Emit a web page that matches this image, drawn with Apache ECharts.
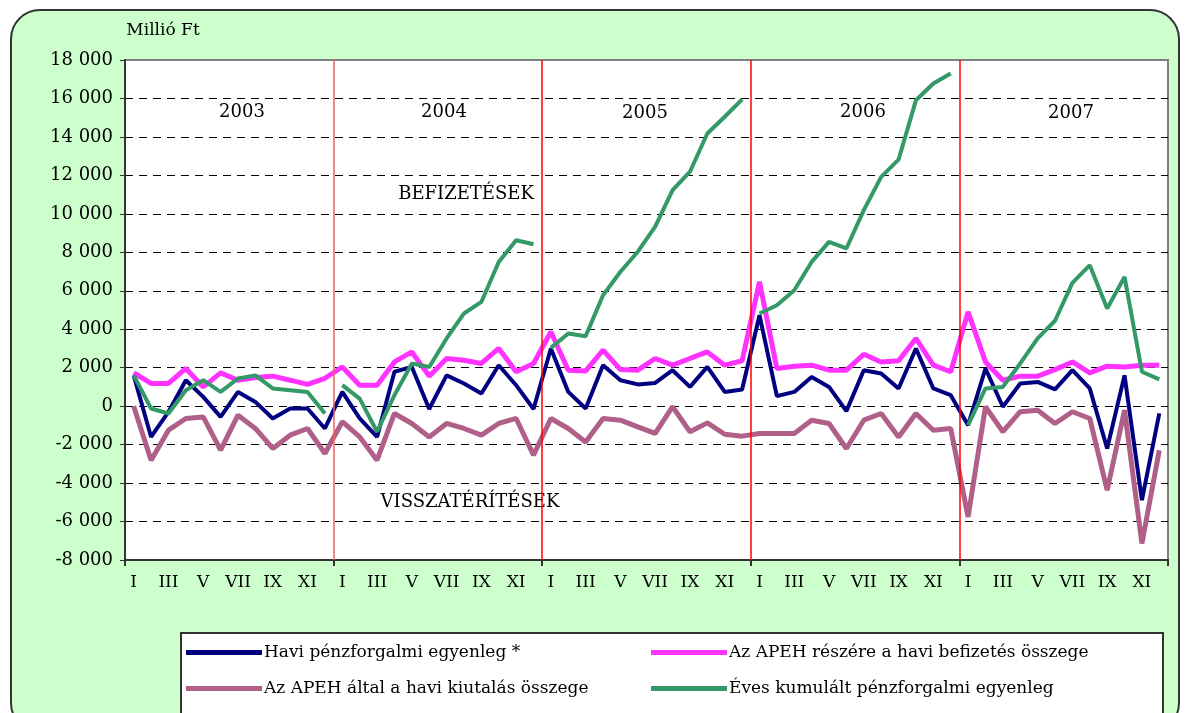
<!DOCTYPE html>
<html>
<head>
<meta charset="utf-8">
<script src="https://cdn.jsdelivr.net/npm/echarts@6/dist/echarts.min.js"></script>
<style>
	body { margin: 0; background: #fff; }
	#keret { position: absolute; left: 10px; top: 9px; width: 1166px; height: 720px; background: #ccffcc; border: 2px solid #333; border-radius: 30px; }
	#main { position: absolute; left: 0; top: 0; width: 1190px; height: 713px; }
</style>
</head>
<body>
<div id="keret"></div>
<div id="main"></div>
<script>
var honapok = ['I', 'II', 'III', 'IV', 'V', 'VI', 'VII', 'VIII', 'IX', 'X', 'XI', 'XII'];
var evek = ['2003', '2004', '2005', '2006', '2007'];

// Havi pénzforgalmi egyenleg (2003-2007)
var havi = [
	1600, -1600, -300, 1350, 480, -560, 740, 220, -640, -120, -120, -1160,
	740, -640, -1600, 1790, 2040, -150, 1600, 1180, 660, 2130, 1090, -150,
	3000, 740, -120, 2130, 1350, 1130, 1210, 1870, 1000, 2040, 740, 870,
	4730, 520, 740, 1520, 1000, -260, 1870, 1700, 920, 3000, 920, 570,
	-990, 1960, -30, 1180, 1260, 870, 1870, 920, -2200, 1600, -4890, -380
];
var befizetes = [
	1730, 1180, 1180, 1960, 1000, 1730, 1350, 1490, 1560, 1350, 1130, 1450,
	2040, 1090, 1090, 2300, 2820, 1560, 2480, 2390, 2220, 3000, 1790, 2220,
	3870, 1870, 1830, 2910, 1900, 1870, 2480, 2130, 2480, 2820, 2130, 2360,
	6470, 1960, 2080, 2130, 1870, 1870, 2700, 2300, 2360, 3520, 2130, 1790,
	4900, 2300, 1350, 1560, 1560, 1900, 2300, 1730, 2080, 2040, 2130, 2130
];
var kiutalas = [
	0, -2810, -1250, -640, -560, -2290, -470, -1160, -2200, -1510, -1160, -2460,
	-810, -1600, -2810, -380, -900, -1600, -900, -1160, -1510, -900, -640, -2550,
	-640, -1160, -1860, -640, -730, -1080, -1420, -30, -1330, -870, -1460, -1560,
	-1420, -1420, -1420, -730, -900, -2200, -730, -380, -1600, -380, -1250, -1160,
	-5760, -30, -1330, -290, -210, -900, -290, -640, -4370, -210, -7140, -2290
];
// éves kumulált, évente újrakezdve
var kum2003 = [1600, -120, -380, 830, 1350, 740, 1440, 1600, 920, 830, 740, -380];
var kum2004 = [1090, 390, -1330, 570, 2220, 2040, 3520, 4820, 5420, 7500, 8630, 8420];
var kum2005 = [3030, 3780, 3640, 5770, 6990, 8030, 9330, 11230, 12190, 14180, 15050, 15950];
var kum2006 = [4820, 5250, 6030, 7500, 8540, 8200, 10190, 11920, 12820, 15910, 16780, 17300];
var kum2007 = [-990, 920, 1000, 2220, 3520, 4440, 6410, 7330, 5080, 6720, 1790, 1390];

var nevHavi = 'Havi pénzforgalmi egyenleg *';
var nevBefiz = 'Az APEH részére a havi befizetés összege';
var nevKiut = 'Az APEH által a havi kiutalás összege';
var nevKum = 'Éves kumulált pénzforgalmi egyenleg';

var kategoriak = [];
evek.forEach(function () { kategoriak = kategoriak.concat(honapok); });

var font = '"DejaVu Serif", "Liberation Serif", serif';

function evesSor(ev, adat) {
	var d = [];
	for (var i = 0; i < 60; i++) d.push(null);
	for (var j = 0; j < 12; j++) d[ev * 12 + j] = adat[j];
	return {
		name: nevKum,
		type: 'line',
		data: d,
		showSymbol: false,
		symbol: 'none',
		z: 5,
		itemStyle: { color: '#339966' },
		lineStyle: { color: '#339966', width: 4 }
	};
}

function szoveg(x, y, t, size) {
	return { type: 'text', x: x, y: y, style: { text: t, font: size + 'px ' + font, fill: '#000', textAlign: 'center', textVerticalAlign: 'middle' } };
}

var myChart = echarts.init(document.getElementById('main'));
var option = {
	animation: false,
	backgroundColor: 'transparent',
	textStyle: { fontFamily: font },
	grid: {
		left: 125,
		right: 22,
		top: 60,
		bottom: 153,
		show: true,
		backgroundColor: '#fff',
		borderColor: '#808080',
		borderWidth: 2
	},
	legend: [{
		data: [nevHavi, nevKiut],
		orient: 'vertical',
		left: 181,
		top: 637,
		itemGap: 15,
		icon: 'rect',
		itemWidth: 76,
		itemHeight: 5,
		textStyle: { fontFamily: font, fontSize: 17, color: '#000', lineHeight: 21, padding: [0, 0, 0, -3] }
	}, {
		data: [nevBefiz, nevKum],
		orient: 'vertical',
		left: 646,
		top: 637,
		itemGap: 15,
		icon: 'rect',
		itemWidth: 76,
		itemHeight: 5,
		textStyle: { fontFamily: font, fontSize: 17, color: '#000', lineHeight: 21, padding: [0, 0, 0, -3] }
	}],
	xAxis: [{
		type: 'category',
		data: kategoriak,
		boundaryGap: true,
		axisLine: { onZero: false, lineStyle: { color: '#333', width: 2 } },
		axisTick: {
			show: true,
			length: 6,
			interval: function (i) { return i % 12 === 0; },
			lineStyle: { color: '#333', width: 2 }
		},
		axisLabel: {
			interval: function (i) { return i % 2 === 0; },
			fontFamily: font,
			fontSize: 17,
			color: '#000',
			margin: 14
		},
		splitLine: { show: false }
	}, {
		// rejtett tengely az évhatárokhoz
		type: 'value',
		min: 0,
		max: 60,
		show: false
	}],
	yAxis: {
		type: 'value',
		min: -8000,
		max: 18000,
		interval: 2000,
		axisLine: { show: true, lineStyle: { color: '#333', width: 2 } },
		axisTick: { show: true, length: 5, lineStyle: { color: '#333' } },
		axisLabel: {
			fontFamily: font,
			fontSize: 18,
			color: '#000',
			margin: 12,
			formatter: function (v) { return String(v).replace(/\B(?=(\d{3})+(?!\d))/g, ' '); }
		},
		splitLine: {
			show: true,
			showMinLine: false,
			showMaxLine: false,
			lineStyle: { color: '#000', type: [8, 6], width: 1 }
		}
	},
	graphic: [
		{ type: 'rect', left: 180, top: 632, shape: { width: 982, height: 82 }, style: { fill: '#fff', stroke: '#333', lineWidth: 2 }, z: -1 },
		szoveg(163, 31, 'Millió Ft', 17),
		szoveg(242, 112, evek[0], 18),
		szoveg(444, 112, evek[1], 18),
		szoveg(645, 113, evek[2], 18),
		szoveg(863, 112, evek[3], 18),
		szoveg(1071, 113, evek[4], 18),
		szoveg(466, 194, 'BEFIZETÉSEK', 18),
		szoveg(470, 502, 'VISSZATÉRÍTÉSEK', 18)
	],
	series: [{
		type: 'line',
		xAxisIndex: 1,
		data: [],
		silent: true,
		markLine: {
			symbol: 'none',
			silent: true,
			label: { show: false },
			data: [
				{ xAxis: 12, lineStyle: { color: '#f06060', type: 'solid', width: 1.5 } },
				{ xAxis: 24, lineStyle: { color: '#ff0000', type: 'solid', width: 1.5 } },
				{ xAxis: 36, lineStyle: { color: '#ff0000', type: 'solid', width: 1.5 } },
				{ xAxis: 48, lineStyle: { color: '#ff0000', type: 'solid', width: 1.5 } }
			]
		}
	}, {
		name: nevKiut,
		type: 'line',
		data: kiutalas,
		showSymbol: false,
		symbol: 'none',
		z: 2,
		itemStyle: { color: '#b06088' },
		lineStyle: { color: '#b06088', width: 5 }
	}, {
		name: nevBefiz,
		type: 'line',
		data: befizetes,
		showSymbol: false,
		symbol: 'none',
		z: 3,
		itemStyle: { color: '#ff33ff' },
		lineStyle: { color: '#ff33ff', width: 5 }
	}, {
		name: nevHavi,
		type: 'line',
		data: havi,
		showSymbol: false,
		symbol: 'none',
		z: 4,
		itemStyle: { color: '#000080' },
		lineStyle: { color: '#000080', width: 4 }
	},
	evesSor(0, kum2003),
	evesSor(1, kum2004),
	evesSor(2, kum2005),
	evesSor(3, kum2006),
	evesSor(4, kum2007)
	]
};
myChart.setOption(option);
</script>
</body>
</html>
